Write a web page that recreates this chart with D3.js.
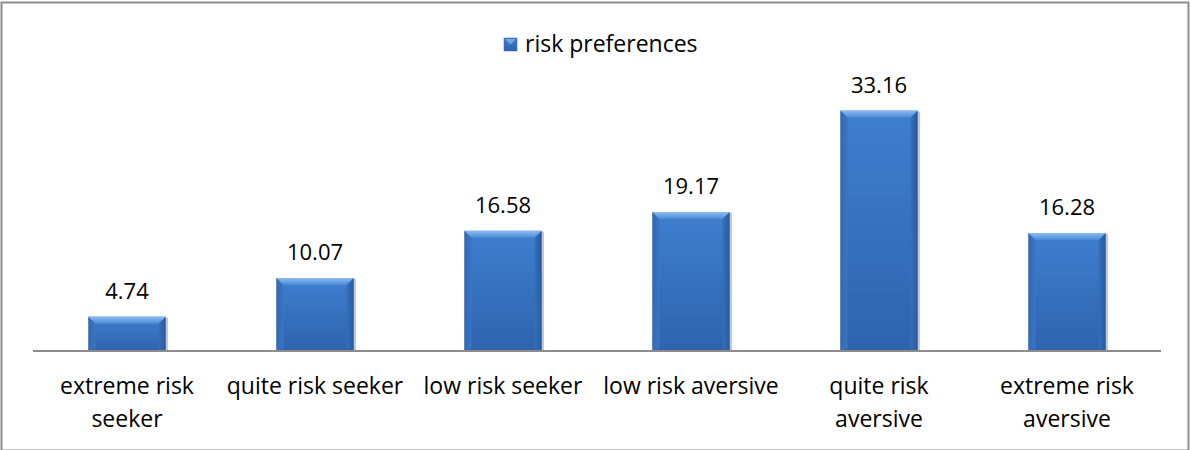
<!DOCTYPE html>
<html>
<head>
<meta charset="utf-8">
<script src="https://cdn.jsdelivr.net/npm/d3@7/dist/d3.min.js"></script>
<style>
  html, body { margin: 0; padding: 0; background: #fff; }
  svg { display: block; }
  text { font-family: "Open Sans", Lato, sans-serif; fill: #000; }
</style>
</head>
<body>
<svg id="chart" width="1190" height="450"></svg>
<script>
// Survey shares (%) by risk preference category
const categories = [
  ["extreme risk", "seeker"],
  ["quite risk seeker"],
  ["low risk seeker"],
  ["low risk aversive"],
  ["quite risk", "aversive"],
  ["extreme risk", "aversive"]
];
const seriesName = "risk preferences";
const values = [4.74, 10.07, 16.58, 19.17, 33.16, 16.28];
const valueLabels = ["4.74", "10.07", "16.58", "19.17", "33.16", "16.28"];

const W = 1190, H = 450;
const svg = d3.select("#chart");
const defs = svg.append("defs");

// Body gradient: lighter at top, deeper blue towards the base
const bodyGrad = defs.append("linearGradient").attr("id", "body").attr("x1", 0).attr("y1", 0).attr("x2", 0).attr("y2", 1);
bodyGrad.append("stop").attr("offset", "0%").attr("stop-color", "#3e7fcf");
bodyGrad.append("stop").attr("offset", "100%").attr("stop-color", "#2f63ad");
// Top bevel: bright highlight fading into the body
const topGrad = defs.append("linearGradient").attr("id", "bevelTop").attr("x1", 0).attr("y1", 0).attr("x2", 0).attr("y2", 1);
topGrad.append("stop").attr("offset", "0%").attr("stop-color", "#8cbcf2");
topGrad.append("stop").attr("offset", "100%").attr("stop-color", "#4a8ad8");
// Side bevels: slightly darker edges
const leftGrad = defs.append("linearGradient").attr("id", "bevelLeft").attr("x1", 0).attr("y1", 0).attr("x2", 1).attr("y2", 0);
leftGrad.append("stop").attr("offset", "0%").attr("stop-color", "#3268b3");
leftGrad.append("stop").attr("offset", "100%").attr("stop-color", "#3a76c4");
const rightGrad = defs.append("linearGradient").attr("id", "bevelRight").attr("x1", 0).attr("y1", 0).attr("x2", 1).attr("y2", 0);
rightGrad.append("stop").attr("offset", "0%").attr("stop-color", "#3570bc");
rightGrad.append("stop").attr("offset", "100%").attr("stop-color", "#2a5a9f");

// Outer frame
svg.append("rect")
  .attr("x", 1.5).attr("y", 2.5)
  .attr("width", W - 3).attr("height", H - 2)
  .attr("fill", "#fff").attr("stroke", "#8c8c8c").attr("stroke-width", 2);

const plot = { left: 33, right: 1161, base: 351 };

const x = d3.scaleBand()
  .domain(d3.range(values.length))
  .range([plot.left, plot.right])
  .paddingInner(0.59)
  .paddingOuter(0.295);

const y = d3.scaleLinear()
  .domain([0, 35])
  .range([plot.base, plot.base - 253.75]);

const bw = x.bandwidth();
const bevel = 7;

const bars = svg.append("g").selectAll("g.bar")
  .data(values)
  .join("g")
  .attr("class", "bar")
  .attr("transform", (d, i) => `translate(${x(i)},0)`);

// soft shadow
bars.append("rect")
  .attr("x", 1).attr("y", d => y(d) + 1)
  .attr("width", bw + 1.5).attr("height", d => plot.base - y(d))
  .attr("fill", "#9a9a9a").attr("opacity", 0.55);

bars.append("rect")
  .attr("x", 0).attr("y", d => y(d))
  .attr("width", bw).attr("height", d => plot.base - y(d))
  .attr("fill", "url(#body)");

bars.append("polygon")
  .attr("points", d => {
    const t = y(d), b = plot.base;
    return [[0, t], [bevel, t + bevel], [bevel, b - 2], [0, b]].join(" ");
  })
  .attr("fill", "url(#bevelLeft)");

bars.append("polygon")
  .attr("points", d => {
    const t = y(d), b = plot.base;
    return [[bw, t], [bw - bevel, t + bevel], [bw - bevel, b - 2], [bw, b]].join(" ");
  })
  .attr("fill", "url(#bevelRight)");

bars.append("polygon")
  .attr("points", d => {
    const t = y(d);
    return [[0, t], [bw, t], [bw - bevel, t + bevel], [bevel, t + bevel]].join(" ");
  })
  .attr("fill", "url(#bevelTop)");

// value labels
bars.append("text")
  .attr("x", bw / 2)
  .attr("y", d => y(d) - 18)
  .attr("text-anchor", "middle")
  .attr("font-size", 22)
  .text((d, i) => valueLabels[i]);

// category axis line
const xAxis = d3.axisBottom(x).tickSize(0).tickFormat("");
const axisG = svg.append("g")
  .attr("transform", `translate(0,${plot.base})`)
  .call(xAxis);
axisG.select(".domain").attr("stroke", "#8c8c8c").attr("stroke-width", 2)
  .attr("d", `M${plot.left},0H${plot.right}`);

// category labels
const catG = svg.append("g").selectAll("text")
  .data(categories)
  .join("text")
  .attr("x", (d, i) => x(i) + bw / 2)
  .attr("y", 394)
  .attr("text-anchor", "middle")
  .attr("font-size", 23);
catG.selectAll("tspan")
  .data(d => d)
  .join("tspan")
  .attr("x", function () { return d3.select(this.parentNode).attr("x"); })
  .attr("dy", (d, i) => i === 0 ? 0 : 32.5)
  .text(d => d);

// legend
const lg = svg.append("g").attr("transform", "translate(504,44)");
lg.append("rect").attr("x", 0).attr("y", -6).attr("width", 13).attr("height", 13).attr("fill", "url(#body)").attr("stroke", "#2f63ad").attr("stroke-width", 0.5);
lg.append("polygon").attr("points", "1,-5 12,-5 6.5,0.5").attr("fill", "#7fb2ee").attr("opacity", 0.8);
lg.append("text").attr("x", 21).attr("y", 7.5).attr("font-size", 23).text(seriesName);
</script>
</body>
</html>
